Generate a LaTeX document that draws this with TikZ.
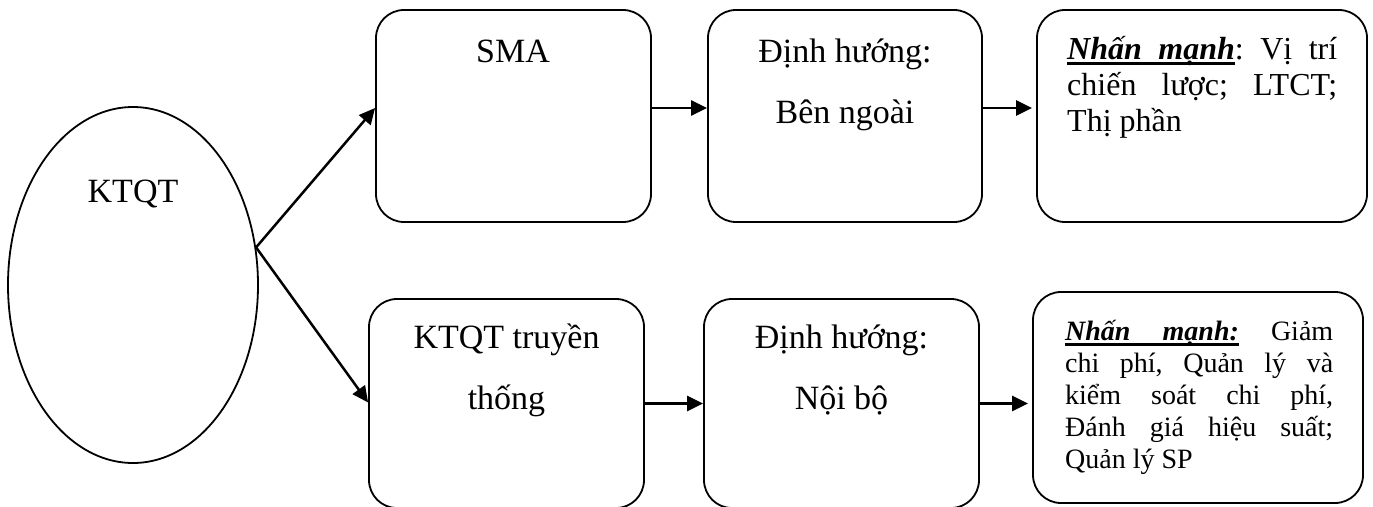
\documentclass[tikz,border=0pt]{standalone}
\usepackage{fontspec}
\setmainfont{Liberation Serif}
\newcommand\myul[1]{\setbox0\hbox{#1}\rlap{\vrule height -3pt depth 5.5pt width \wd0}\box0}
\newcommand\ulgap{\leaders\hrule height -3pt depth 5.5pt\hfill}
\usetikzlibrary{shapes.geometric,arrows.meta}
\begin{document}
\begin{tikzpicture}[x=1pt,y=-1pt,
  box/.style={draw, line width=1.8pt, rounded corners=28pt, inner sep=0pt},
  oval/.style={draw, ellipse, line width=1.8pt, inner sep=0pt},
  arr/.style={line width=2.5pt, -{Triangle[length=16pt,width=15pt]}},
  lbl/.style={inner sep=0pt, anchor=base, font=\fontsize{34}{61}\selectfont},
  note/.style={inner sep=0pt, anchor=base west},
]
\useasboundingbox (0,0) rectangle (1373,506);

% shapes
\node[oval, minimum width=250pt, minimum height=356pt] (E) at (133,285) {};
\node[box, minimum width=275pt, minimum height=212pt] (sma) at (513.5,116) {};
\node[box, minimum width=274pt, minimum height=212pt] (dh1) at (845,116) {};
\node[box, minimum width=330pt, minimum height=212pt] (nm1) at (1202,116) {};
\node[box, minimum width=275pt, minimum height=209pt] (tt) at (506.5,403.5) {};
\node[box, minimum width=275pt, minimum height=209pt] (dh2) at (841.5,403.5) {};
\node[box, minimum width=330pt, minimum height=211pt] (nm2) at (1198,397.5) {};

% texts
\node[lbl] (tE) at (133,202) {KTQT};
\node[lbl] (tsma) at (513,62) {SMA};
\node[lbl] (tdh1) at (845,62) {\begin{tabular}[t]{@{}c@{}}Định hướng:\\Bên ngoài\end{tabular}};
\node[lbl] (ttt) at (506.5,348) {\begin{tabular}[t]{@{}c@{}}KTQT truyền\\thống\end{tabular}};
\node[lbl] (tdh2) at (841.5,348) {\begin{tabular}[t]{@{}c@{}}Định hướng:\\Nội bộ\end{tabular}};
\node[note, font=\fontsize{32}{36}\selectfont] (tnm1) at (1067,59)
  {\vtop{\hbox to 270pt{{\bfseries\itshape\myul{Nhấn}\ulgap\myul{mạnh}}:\hfill Vị\hfill trí}
         \hbox to 270pt{chiến\hfill lược;\hfill LTCT;}
         \hbox{Thị phần}}};
\node[note, font=\fontsize{28}{32}\selectfont] (tnm2) at (1065,340)
  {\vtop{\hbox to 268pt{{\bfseries\itshape\myul{Nhấn}\ulgap\myul{mạnh:}}\hfill Giảm}
         \hbox to 268pt{chi\hfill phí,\hfill Quản\hfill lý\hfill và}
         \hbox to 268pt{kiểm\hfill soát\hfill chi\hfill phí,}
         \hbox to 268pt{Đánh\hfill giá\hfill hiệu\hfill suất;}
         \hbox{Quản lý SP}}};

% connectors
\draw[arr] (E.17) -- ([yshift=8pt]sma.west);
\draw[arr] (E.17) -- ([yshift=1pt]tt.west);
\draw[arr] ([yshift=8pt]sma.east) -- ([yshift=8pt]dh1.west);
\draw[arr] ([yshift=8pt]dh1.east) -- ([yshift=8pt,xshift=-4pt]dh1.east -| nm1.west);
\draw[arr] (tt.east) -- (dh2.west);
\draw[arr] (dh2.east) -- ([xshift=-4pt]dh2.east -| nm2.west);
\end{tikzpicture}
\end{document}
